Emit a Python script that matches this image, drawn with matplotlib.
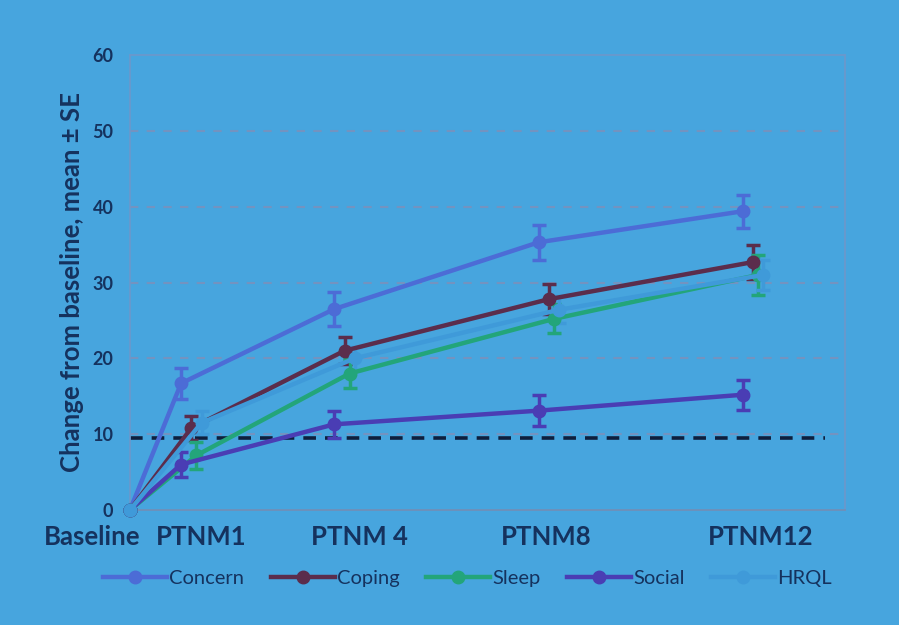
import matplotlib.pyplot as plt
from matplotlib.lines import Line2D
from matplotlib.transforms import ScaledTranslation

# months after treatment start
months = [0, 1, 4, 8, 12]
tick_labels = ["Baseline", "PTNM1", "PTNM 4", "PTNM8", "PTNM12"]

concern = [0, 16.7, 26.5, 35.3, 39.4]
concern_se = [0, 2.0, 2.2, 2.3, 2.2]
coping = [0, 10.8, 21.0, 27.8, 32.7]
coping_se = [0, 1.6, 1.8, 2.0, 2.2]
sleep = [0, 7.2, 18.0, 25.2, 31.0]
sleep_se = [0, 1.8, 1.9, 1.9, 2.6]
social = [0, 6.0, 11.3, 13.1, 15.2]
social_se = [0, 1.7, 1.8, 2.0, 2.0]
hrql = [0, 11.5, 20.0, 26.4, 31.0]
hrql_se = [0, 1.5, 1.5, 1.8, 2.0]

threshold = 9.5

bg = "#47a5de"
navy = "#15325e"

series = [
    ("Concern", concern, concern_se, "#4c6cd6", 0.0),
    ("Coping", coping, coping_se, "#5b2d4c", 0.2),
    ("Sleep", sleep, sleep_se, "#23a57a", 0.3),
    ("Social", social, social_se, "#4a3db4", 0.0),
    ("HRQL", hrql, hrql_se, "#3f9ad9", 0.4),
]

fig = plt.figure(figsize=(8.99, 6.25), dpi=100, facecolor=bg)
ax = fig.add_axes([0.1446, 0.184, 0.7954, 0.728])
ax.set_facecolor(bg)

for y in [10, 20, 30, 40, 50]:
    ax.axhline(y, color="#7393c0", lw=1.5, ls=(0, (4, 4)), zorder=1)

ax.plot([0, 13.6], [threshold, threshold], color="#0e1f3d", lw=2.6,
        ls=(0, (3.5, 2.5)), zorder=2)

handles = []
for name, vals, se, color, dx in series:
    xs = [m + dx if m > 0 else m for m in months]
    ax.errorbar(xs, vals, yerr=se, color=color, lw=3.2, marker="o", ms=9,
                elinewidth=2.5, capsize=5, capthick=2.5, zorder=3, clip_on=False)
    handles.append(Line2D([], [], color=color, lw=3.2, marker="o", ms=9))

ax.set_xlim(0, 14)
ax.set_ylim(0, 60)
ax.set_yticks(range(0, 61, 10))
ax.set_xticks(months)
ax.set_xticklabels(tick_labels)
ax.tick_params(length=0)
ax.tick_params(axis="y", labelsize=13, labelcolor=navy, pad=12)
ax.tick_params(axis="x", labelsize=18.5, labelcolor=navy, pad=11)
for lab in ax.get_yticklabels():
    lab.set_fontfamily("Lato")
    lab.set_fontweight("bold")
shifts = [0.1, 0.2, 0.25, 0.08, 0.18]
for lab, s in zip(ax.get_xticklabels(), shifts):
    lab.set_fontfamily("Lato")
    lab.set_fontweight("bold")
    lab.set_transform(lab.get_transform() + ScaledTranslation(s, 0, fig.dpi_scale_trans))
ax.get_xticklabels()[0].set_ha("right")

for side in ["left", "top", "right"]:
    ax.spines[side].set_color("#6a98cc")
    ax.spines[side].set_linewidth(1.3)
ax.spines["bottom"].set_color("#6f8fb8")
ax.spines["bottom"].set_linewidth(1.3)

ax.set_ylabel("Change from baseline, mean \u00b1 SE", fontsize=18.5, color=navy,
              fontfamily="Lato", fontweight="bold", labelpad=6)

leg = fig.legend(handles, [s[0] for s in series], loc="center",
                 bbox_to_anchor=(0.52, 0.075), ncol=5, frameon=False,
                 handlelength=3.2, columnspacing=1.3, handletextpad=0.1,
                 prop={"family": "Lato", "size": 14.5})
for t in leg.get_texts():
    t.set_color(navy)

fig.savefig("out.png", dpi=100, facecolor=bg)
